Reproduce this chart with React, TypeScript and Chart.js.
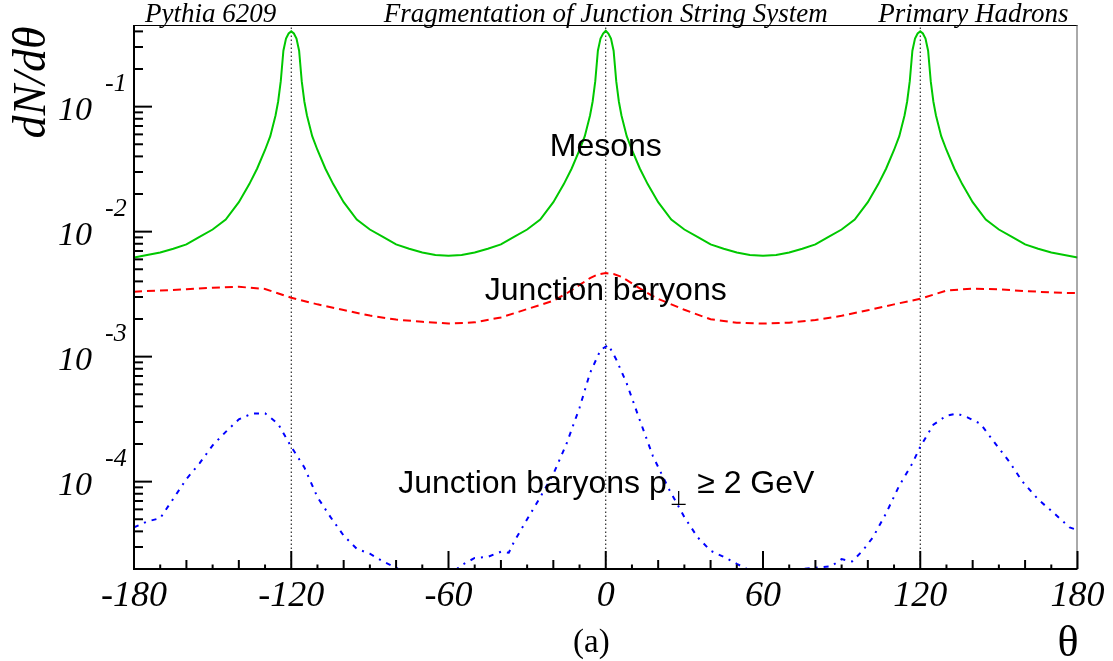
import React, { useEffect, useRef } from 'react';
import { Chart, registerables } from 'chart.js';

Chart.register(...registerables);

// ---------------- data ----------------
const MESON_THETA = [
  -180, -175, -170, -165, -160, -155, -150, -145, -140, -136, -133, -130, -128, -126, -125, -124, -123, -122, -121,
  -120, -119, -118, -117, -116, -115, -114, -112, -110, -107, -104, -100, -95, -90, -85, -80, -75, -70, -65,
  -60, -55, -50, -45, -40, -35, -30, -25, -20, -16, -13, -10, -8, -6, -5, -4, -3, -2, -1,
  0, 1, 2, 3, 4, 5, 6, 8, 10, 13, 16, 20, 25, 30, 35, 40, 45, 50, 55,
  60, 65, 70, 75, 80, 85, 90, 95, 100, 104, 107, 110, 112, 114, 115, 116, 117, 118, 119,
  120, 121, 122, 123, 124, 125, 126, 128, 130, 133, 136, 140, 145, 150, 155, 160, 165, 170, 175, 180,
];
const MESON_DNDTHETA = [
  0.0062, 0.0065, 0.0068, 0.0073, 0.0079, 0.0091, 0.0104, 0.0125, 0.0172, 0.024, 0.032, 0.045, 0.058, 0.085, 0.11, 0.16, 0.28, 0.35, 0.385,
  0.4, 0.385, 0.35, 0.28, 0.16, 0.11, 0.085, 0.058, 0.045, 0.032, 0.024, 0.0172, 0.0125, 0.0104, 0.0091, 0.0079, 0.0073, 0.0068, 0.0065,
  0.0064, 0.0065, 0.0068, 0.0073, 0.0079, 0.0091, 0.0104, 0.0125, 0.0172, 0.024, 0.032, 0.045, 0.058, 0.085, 0.11, 0.16, 0.28, 0.35, 0.385,
  0.405, 0.385, 0.35, 0.28, 0.16, 0.11, 0.085, 0.058, 0.045, 0.032, 0.024, 0.0172, 0.0125, 0.0104, 0.0091, 0.0079, 0.0073, 0.0068, 0.0065,
  0.0064, 0.0065, 0.0068, 0.0073, 0.0079, 0.0091, 0.0104, 0.0125, 0.0172, 0.024, 0.032, 0.045, 0.058, 0.085, 0.11, 0.16, 0.28, 0.35, 0.385,
  0.4, 0.385, 0.35, 0.28, 0.16, 0.11, 0.085, 0.058, 0.045, 0.032, 0.024, 0.0172, 0.0125, 0.0104, 0.0091, 0.0079, 0.0073, 0.0068, 0.0065, 0.0062,
];

const JB_THETA = [
  -180, -170, -160, -150, -140, -130, -120, -110, -100, -90, -80, -70, -60, -50, -40, -30, -20, -15, -10, -6, -3,
  0, 3, 6, 10, 15, 20, 30, 40, 50, 60, 70, 80, 90, 100, 110, 120, 130, 140, 150, 160, 170, 180,
];
const JB_DNDTHETA = [
  0.00331, 0.00338, 0.00346, 0.00356, 0.00362, 0.00348, 0.00296, 0.00262, 0.00236, 0.00213, 0.00198, 0.0019, 0.00184, 0.00188,
  0.00206, 0.0024, 0.0028, 0.0032, 0.00375, 0.00425, 0.00455,
  0.00466, 0.00458, 0.00435, 0.00385, 0.0033, 0.0029, 0.00237, 0.00199, 0.00187, 0.00184, 0.00187, 0.00196, 0.00212, 0.00235,
  0.00262, 0.0029, 0.00338, 0.0035, 0.00345, 0.00335, 0.00326, 0.00322,
];

const JBPT_THETA = [
  -180, -175, -170, -165, -160, -155, -150, -145, -140, -135, -130, -125, -120, -115, -110, -105, -100, -95, -90, -85,
  -80, -75, -70, -65, -60, -55, -50, -45, -40, -37, -35, -30, -25, -20, -15, -10, -6, -2,
  1, 4, 8, 13, 18, 24, 30, 35, 40, 45, 50, 55, 60, 65, 70, 75, 80, 86, 90, 94, 98, 102, 107, 112, 117,
  120, 125, 130, 134, 138, 143, 148, 154, 159, 165, 171, 177, 180,
];
const JBPT_DNDTHETA = [
  4.3e-5, 4.8e-5, 5.1e-5, 7.3e-5, 1.05e-4, 1.4e-4, 1.95e-4, 2.5e-4, 3.15e-4, 3.5e-4, 3.52e-4, 2.9e-4, 1.9e-4, 1.3e-4,
  7.5e-5, 5.2e-5, 3.7e-5, 2.9e-5, 2.65e-5, 2.3e-5,
  2.05e-5, 1.8e-5, 1.6e-5, 1.6e-5, 1.75e-5, 2.15e-5, 2.45e-5, 2.5e-5, 2.75e-5, 2.7e-5, 3.3e-5, 5.0e-5, 7.5e-5, 1.15e-4,
  2.0e-4, 3.9e-4, 7.4e-4, 1.13e-3,
  1.24e-3, 9.5e-4, 6.1e-4, 3.1e-4, 1.6e-4, 8.8e-5, 5.2e-5, 3.6e-5, 2.8e-5, 2.5e-5, 2.2e-5, 1.95e-5, 1.75e-5, 1.6e-5,
  1.7e-5, 2.0e-5, 2.05e-5, 2.1e-5, 2.4e-5, 2.3e-5, 2.8e-5, 3.6e-5, 5.6e-5, 9.3e-5, 1.4e-4,
  1.9e-4, 2.85e-4, 3.37e-4, 3.5e-4, 3.27e-4, 2.9e-4, 2.1e-4, 1.44e-4, 1.0e-4, 7.2e-5, 5.6e-5, 4.3e-5, 4.1e-5,
];

const REF_LINES = [-120, 0, 120];
const X_RANGE = [-180, 180];
const Y_RANGE = [2e-5, 0.45];
const X_TICK_LABELS = [-180, -120, -60, 0, 60, 120, 180];
const Y_DECADE_EXPONENTS = [-1, -2, -3, -4];
const TOP_TITLES = ['Pythia 6209', 'Fragmentation of Junction String System', 'Primary Hadrons'];
const CURVE_LABELS = ['Mesons', 'Junction baryons', 'Junction baryons p', '\u22A5', '\u2265 2 GeV'];

// ---------------- styling ----------------
const SERIF = '"Liberation Serif", "Times New Roman", "DejaVu Serif", serif';
const SANS = '"Liberation Sans", Arial, "DejaVu Sans", sans-serif';

const zip = (xs: number[], ys: number[]) => xs.map((x, i) => ({ x, y: ys[i] }));

const rootPlugin = {
  id: 'rootStyle',
  afterDatasetsDraw(chart: any) {
    const { ctx, chartArea, scales } = chart;
    const { left, right, top, bottom } = chartArea;
    const xs = scales.x;
    const ys = scales.y;
    ctx.save();

    // curve labels
    ctx.fillStyle = '#000';
    ctx.textBaseline = 'alphabetic';
    ctx.font = `32px ${SANS}`;
    ctx.textAlign = 'center';
    ctx.fillText(CURVE_LABELS[0], xs.getPixelForValue(0), ys.getPixelForValue(0.0404));
    ctx.fillText(CURVE_LABELS[1], xs.getPixelForValue(0), ys.getPixelForValue(0.00282));
    ctx.textAlign = 'left';
    const bx = xs.getPixelForValue(-79.2);
    const by = ys.getPixelForValue(8.1e-5);
    ctx.fillText(CURVE_LABELS[2], bx, by);
    const w1 = ctx.measureText(CURVE_LABELS[2]).width;
    ctx.font = `20px ${SANS}`;
    ctx.fillText(CURVE_LABELS[3], bx + w1 + 3, by + 12);
    const w2 = ctx.measureText(CURVE_LABELS[3]).width;
    ctx.font = `32px ${SANS}`;
    ctx.fillText(CURVE_LABELS[4], bx + w1 + 3 + w2 + 10, by);

    // frame
    ctx.lineWidth = 1;
    ctx.strokeStyle = '#000';
    ctx.beginPath();
    ctx.moveTo(left, top + 0.5);
    ctx.lineTo(right, top + 0.5);
    ctx.stroke();
    ctx.strokeStyle = '#555';
    ctx.beginPath();
    ctx.moveTo(right - 0.5, top);
    ctx.lineTo(right - 0.5, bottom);
    ctx.stroke();
    ctx.strokeStyle = '#000';
    ctx.lineWidth = 2;
    ctx.beginPath();
    ctx.moveTo(left, top);
    ctx.lineTo(left, bottom);
    ctx.lineTo(right, bottom);
    ctx.stroke();

    // x ticks (inward)
    for (const t of xs.ticks) {
      const v = Math.round(t.value);
      const px = xs.getPixelForValue(v);
      const len = v % 60 === 0 ? 18 : v % 20 === 0 ? 9 : 4.5;
      ctx.beginPath();
      ctx.moveTo(px, bottom);
      ctx.lineTo(px, bottom - len);
      ctx.stroke();
    }
    // y ticks (inward)
    for (const t of ys.ticks) {
      const v = t.value;
      const lg = Math.log10(v);
      const major = Math.abs(lg - Math.round(lg)) < 1e-6;
      const py = ys.getPixelForValue(v);
      ctx.beginPath();
      ctx.moveTo(left, py);
      ctx.lineTo(left + (major ? 18 : 9), py);
      ctx.stroke();
    }

    // x tick labels
    ctx.font = `italic 36px ${SERIF}`;
    ctx.textAlign = 'center';
    for (const v of X_TICK_LABELS) {
      ctx.fillText(String(v), xs.getPixelForValue(v), bottom + 37);
    }
    // y tick labels 10^e
    for (const e of Y_DECADE_EXPONENTS) {
      const py = ys.getPixelForValue(Math.pow(10, e));
      ctx.font = `italic 34px ${SERIF}`;
      ctx.textAlign = 'right';
      ctx.fillText('10', left - 42, py + 13);
      ctx.font = `italic 26px ${SERIF}`;
      ctx.textAlign = 'left';
      ctx.fillText(String(e), left - 29, py - 16);
    }

    // top titles
    ctx.font = `italic 27px ${SERIF}`;
    ctx.textAlign = 'left';
    ctx.fillText(TOP_TITLES[0], left + 11, top - 3.5);
    ctx.textAlign = 'center';
    ctx.fillText(TOP_TITLES[1], (left + right) / 2, top - 3.5);
    ctx.textAlign = 'right';
    ctx.fillText(TOP_TITLES[2], right - 9, top - 3.5);

    // axis titles
    ctx.font = `44px ${SERIF}`;
    ctx.textAlign = 'right';
    ctx.fillText('\u03B8', right + 1, bottom + 87);
    ctx.font = `33px ${SERIF}`;
    ctx.textAlign = 'left';
    ctx.fillText('(a)', 573, bottom + 83);

    ctx.save();
    ctx.translate(45, 82.5);
    ctx.rotate(-Math.PI / 2);
    ctx.font = `italic 46px ${SERIF}`;
    ctx.textAlign = 'center';
    ctx.fillText('dN/d\u03B8', 0, 0);
    ctx.restore();

    ctx.restore();
  },
};

export default function App() {
  const canvasRef = useRef<HTMLCanvasElement | null>(null);

  useEffect(() => {
    const canvas = canvasRef.current;
    if (!canvas) return;
    const refSets = REF_LINES.map((v) => ({
      label: `ref ${v}`,
      data: [
        { x: v, y: Y_RANGE[0] },
        { x: v, y: Y_RANGE[1] },
      ],
      borderColor: '#000',
      borderWidth: 1,
      borderDash: [1.5, 2.5],
      pointRadius: 0,
      fill: false,
    }));
    const chart = new Chart(canvas, {
      type: 'line',
      data: {
        datasets: [
          {
            label: 'Mesons',
            data: zip(MESON_THETA, MESON_DNDTHETA),
            borderColor: '#00c800',
            borderWidth: 2,
            pointRadius: 0,
            tension: 0,
            fill: false,
          },
          {
            label: 'Junction baryons',
            data: zip(JB_THETA, JB_DNDTHETA),
            borderColor: '#ff0000',
            borderWidth: 2,
            borderDash: [8, 5],
            pointRadius: 0,
            tension: 0,
            fill: false,
          },
          {
            label: 'Junction baryons pT >= 2 GeV',
            data: zip(JBPT_THETA, JBPT_DNDTHETA),
            borderColor: '#0000ff',
            borderWidth: 2,
            borderDash: [5, 6, 2, 6],
            pointRadius: 0,
            tension: 0,
            fill: false,
          },
          ...refSets,
        ],
      },
      options: {
        animation: false,
        responsive: true,
        maintainAspectRatio: false,
        parsing: true,
        layout: { padding: { left: 134, right: 35.5, top: 25, bottom: 92 } },
        plugins: { legend: { display: false }, tooltip: { enabled: false }, title: { display: false } },
        events: [],
        scales: {
          x: {
            type: 'linear',
            min: X_RANGE[0],
            max: X_RANGE[1],
            grid: { display: false, drawTicks: false },
            border: { display: false },
            ticks: { display: false },
            afterBuildTicks: (scale: any) => {
              const t = [];
              for (let v = X_RANGE[0]; v <= X_RANGE[1]; v += 10) t.push({ value: v });
              scale.ticks = t;
            },
          },
          y: {
            type: 'logarithmic',
            min: Y_RANGE[0],
            max: Y_RANGE[1],
            grid: { display: false, drawTicks: false },
            border: { display: false },
            ticks: { display: false },
            afterBuildTicks: (scale: any) => {
              const t = [];
              for (let e = -5; e <= 0; e++) {
                for (let m = 1; m <= 9; m++) {
                  const v = m * Math.pow(10, e);
                  if (v >= Y_RANGE[0] * 0.999 && v <= Y_RANGE[1]) t.push({ value: v });
                }
              }
              scale.ticks = t;
            },
          },
        },
      },
      plugins: [rootPlugin],
    } as any);
    return () => chart.destroy();
  }, []);

  return (
    <div style={{ position: 'fixed', left: 0, top: 0, width: 1113, height: 661, background: '#fff' }}>
      <canvas ref={canvasRef} />
    </div>
  );
}
